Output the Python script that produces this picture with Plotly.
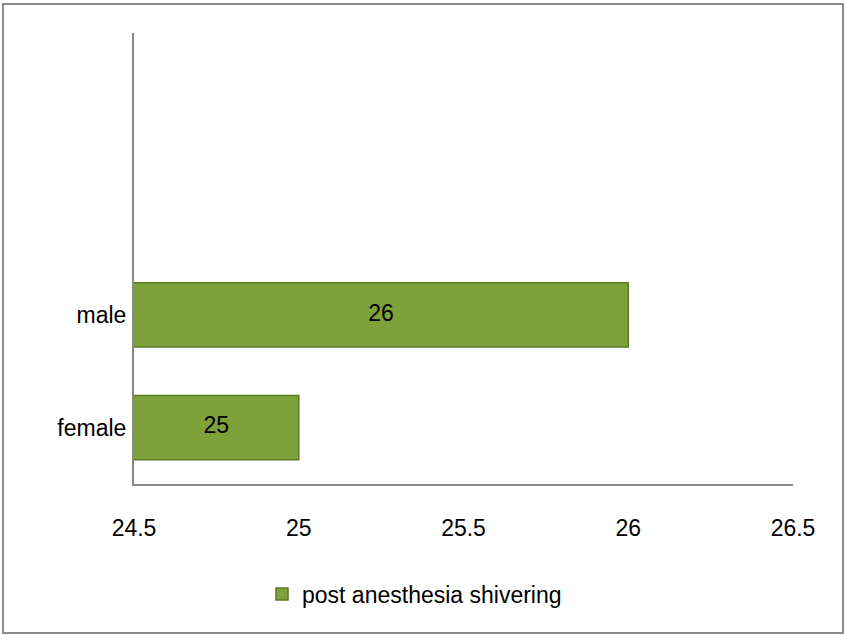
import plotly.graph_objects as go

categories = ["female", "male"]
values = [25, 26]
series_name = "post anesthesia shivering"
x_ticks = [24.5, 25, 25.5, 26, 26.5]
x_tick_labels = ["24.5", "25", "25.5", "26", "26.5"]
x_min, x_max = 24.5, 26.5

W, H = 846, 635
L, R, T, B = 134, 53, 33, 151
pw, ph = W - L - R, H - T - B

FONT = "Liberation Sans Narrow, Arial Narrow, Liberation Sans, sans-serif"
FS = 23

fig = go.Figure()
fig.add_trace(go.Bar(
    y=categories, x=values, orientation="h", name=series_name,
    marker=dict(color="#7ea23a", line=dict(color="#5b7a26", width=1.5)),
    width=0.57, textposition="none", showlegend=True,
))
# value labels centred on the visible part of each bar
fig.add_trace(go.Scatter(
    y=categories, x=[(x_min + v) / 2 for v in values], mode="text",
    text=[str(v) for v in values], textposition="middle center",
    textfont=dict(color="black", size=FS, family=FONT),
    showlegend=False, hoverinfo="skip",
))

fig.update_layout(
    width=W, height=H,
    margin=dict(l=L, r=R, t=T, b=B, pad=0),
    paper_bgcolor="white", plot_bgcolor="white",
    font=dict(family=FONT, size=FS, color="black"),
    showlegend=True,
    legend=dict(orientation="h", x=(262 - L) / pw, xanchor="left",
                y=(484 - 594) / ph, yanchor="middle",
                font=dict(size=FS, family=FONT), bgcolor="rgba(0,0,0,0)"),
    xaxis=dict(range=[x_min, x_max], tickvals=x_ticks, ticktext=x_tick_labels,
               showgrid=False, zeroline=False, showline=True,
               linecolor="#8a8a8a", linewidth=2, ticks="",
               ticklabelstandoff=22, tickfont=dict(size=FS, family=FONT)),
    yaxis=dict(type="category", categoryorder="array", categoryarray=categories,
               range=[-0.5, 3.5], showgrid=False, zeroline=False,
               showline=True, linecolor="#8a8a8a", linewidth=2, ticks="",
               ticklabelstandoff=1, tickfont=dict(size=FS, family=FONT)),
    shapes=[dict(type="rect", xref="paper", yref="paper",
                 x0=(3 - L) / pw, x1=(843 - L) / pw,
                 y0=(H - B - 633) / ph, y1=(H - B - 4) / ph,
                 line=dict(color="#8c8c8c", width=2), layer="below")],
)

fig.write_html("out.html")
